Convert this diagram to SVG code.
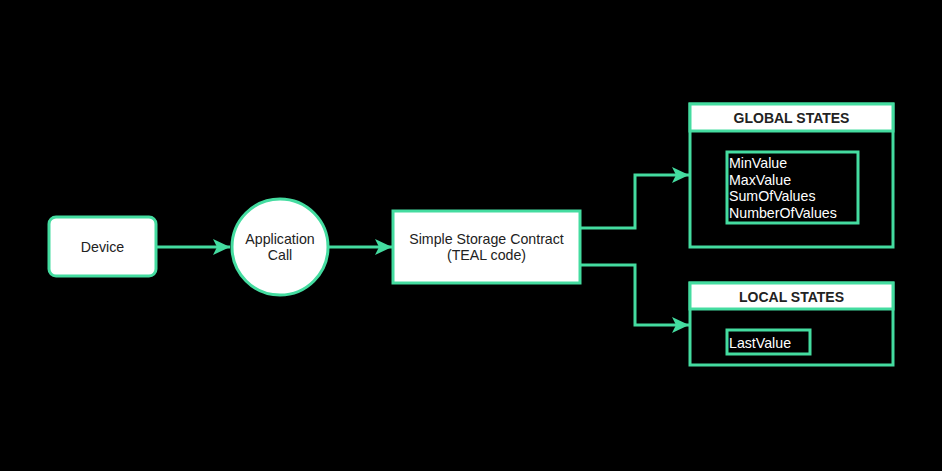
<svg xmlns="http://www.w3.org/2000/svg" width="942" height="471" viewBox="0 0 942 471">
<style>
.g{stroke:#44dca0;stroke-width:3}
.w{fill:#ffffff}
.k{fill:#000000}
.lbl{font-family:"Liberation Sans",Arial,sans-serif;font-size:14.2px;fill:#222222;text-anchor:middle}
.hdr{font-family:"Liberation Sans",Arial,sans-serif;font-size:14px;font-weight:bold;fill:#222222;text-anchor:middle}
.val{font-family:"Liberation Sans",Arial,sans-serif;font-size:14.2px;fill:#ffffff}
.c{fill:none;stroke:#44dca0;stroke-width:3}
</style>
<defs>
<marker id="ah" markerUnits="userSpaceOnUse" markerWidth="20" markerHeight="20" viewBox="0 0 20 20" refX="18" refY="10" orient="auto">
<path d="M1,2 L18,10 L1,18 L5,10 Z" fill="#44dca0"/>
</marker>
</defs>
<rect width="942" height="471" fill="#000000"/>
<g id="connectors">
<path class="c" d="M157,247 L230,247" marker-end="url(#ah)"/>
<path class="c" d="M328,247 L392,247" marker-end="url(#ah)"/>
<path class="c" d="M580,228 L635,228 L635,175 L689,175" marker-end="url(#ah)"/>
<path class="c" d="M580,265 L635,265 L635,325 L689,325" marker-end="url(#ah)"/>
</g>
<g id="device">
<rect class="g w" x="49" y="217" width="107" height="59" rx="7"/>
<text class="lbl" x="102.5" y="252">Device</text>
</g>
<g id="application-call">
<circle class="g w" cx="280" cy="247" r="48"/>
<text class="lbl" x="280" y="244">Application</text>
<text class="lbl" x="280" y="260">Call</text>
</g>
<g id="contract">
<rect class="g w" x="393" y="211" width="187" height="72"/>
<text class="lbl" x="486.5" y="244">Simple Storage Contract</text>
<text class="lbl" x="486.5" y="260">(TEAL code)</text>
</g>
<g id="global-states">
<rect class="g k" x="690" y="104" width="203" height="143"/>
<rect class="g w" x="690" y="104" width="203" height="27"/>
<text class="hdr" x="791.5" y="123">GLOBAL STATES</text>
<rect class="g k" x="727" y="152" width="131" height="71"/>
<text class="val" x="729" y="168">MinValue</text>
<text class="val" x="729" y="184.5">MaxValue</text>
<text class="val" x="729" y="201">SumOfValues</text>
<text class="val" x="729" y="217.5">NumberOfValues</text>
</g>
<g id="local-states">
<rect class="g k" x="690" y="283" width="203" height="82"/>
<rect class="g w" x="690" y="283" width="203" height="26"/>
<text class="hdr" x="791.5" y="302">LOCAL STATES</text>
<rect class="g k" x="727" y="330" width="83" height="24"/>
<text class="val" x="729" y="347.5">LastValue</text>
</g>
</svg>
